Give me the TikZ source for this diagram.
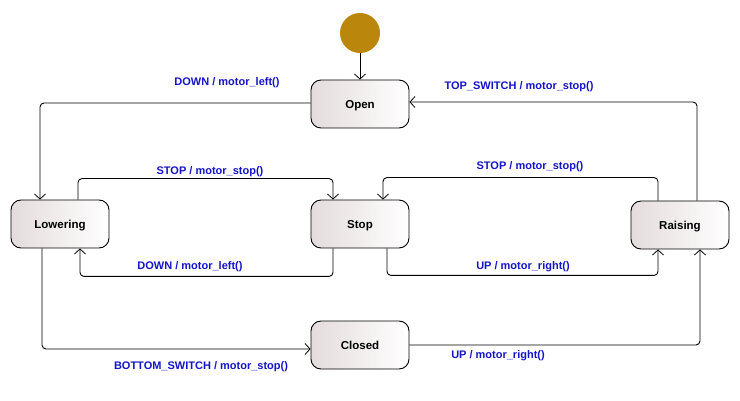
\documentclass[tikz,border=0pt]{standalone}
\usepackage{fontspec}
\setmainfont{Liberation Sans}
\usetikzlibrary{arrows.meta}
\definecolor{initc}{RGB}{186,134,12}
\definecolor{lblc}{RGB}{20,20,200}
\definecolor{shadec}{RGB}{228,220,220}
\tikzset{
  statebox/.style={draw=black, line width=0.9pt, rounded corners=10pt, minimum width=98pt, minimum height=48pt,
    left color=shadec, right color=white, font=\fontsize{11.5}{13}\selectfont\bfseries, inner sep=0pt,
    text depth=-1pt},
  conn/.style={draw=black, line width=0.9pt, rounded corners=4pt, -{Straight Barb[length=5pt,width=11pt,line width=0.8pt]}},
  lbl/.style={text=lblc, font=\fontsize{11}{12}\selectfont\bfseries, inner sep=0pt}
}
\begin{document}
\begin{tikzpicture}[x=1pt,y=-1pt]
\useasboundingbox (0,0) rectangle (740,401);
\fill[white] (0,0) rectangle (740,401);
\node[circle, fill=initc, minimum size=40pt, inner sep=0pt] (init) at (360,33) {};
\node[statebox] (Open) at (360,104) {Open};
\node[statebox] (Lowering) at (60,224) {Lowering};
\node[statebox] (Stop) at (360,224) {Stop};
\node[statebox] (Raising) at (680,225) {Raising};
\node[statebox] (Closed) at (360,345) {Closed};

\draw[conn] (init) -- (Open);
\draw[conn] ([yshift=1pt]Open.west) -| ([xshift=-20pt]Lowering.north);
\draw[conn] ([xshift=17pt]Raising.north) |- ([yshift=2pt]Open.east);
\draw[conn] ([xshift=18pt]Lowering.north) -- ++(0,-21) -| ([xshift=-27pt]Stop.north);
\draw[conn] ([xshift=-27pt]Stop.south) -- ++(0,28) -| ([xshift=20pt]Lowering.south);
\draw[conn] ([xshift=-22pt]Raising.north) -- ++(0,-23) -| ([xshift=23pt]Stop.north);
\draw[conn] ([xshift=27pt]Stop.south) -- ++(0,27) -| ([xshift=-22pt]Raising.south);
\draw[conn] ([xshift=-18pt]Lowering.south) |- ([yshift=-4pt]Closed.west);
\draw[conn] (Closed.east) -| ([xshift=20pt]Raising.south);

\node[lbl] (l1) at (227,83) {DOWN / motor\_left()};
\node[lbl] (l2) at (519,87) {TOP\_SWITCH / motor\_stop()};
\node[lbl] (l3) at (210,172) {STOP / motor\_stop()};
\node[lbl] (l4) at (190,267) {DOWN / motor\_left()};
\node[lbl] (l5) at (530,167) {STOP / motor\_stop()};
\node[lbl] (l6) at (523,267) {UP / motor\_right()};
\node[lbl] (l7) at (201,367) {BOTTOM\_SWITCH / motor\_stop()};
\node[lbl] (l8) at (498,356) {UP / motor\_right()};
\end{tikzpicture}
\end{document}
